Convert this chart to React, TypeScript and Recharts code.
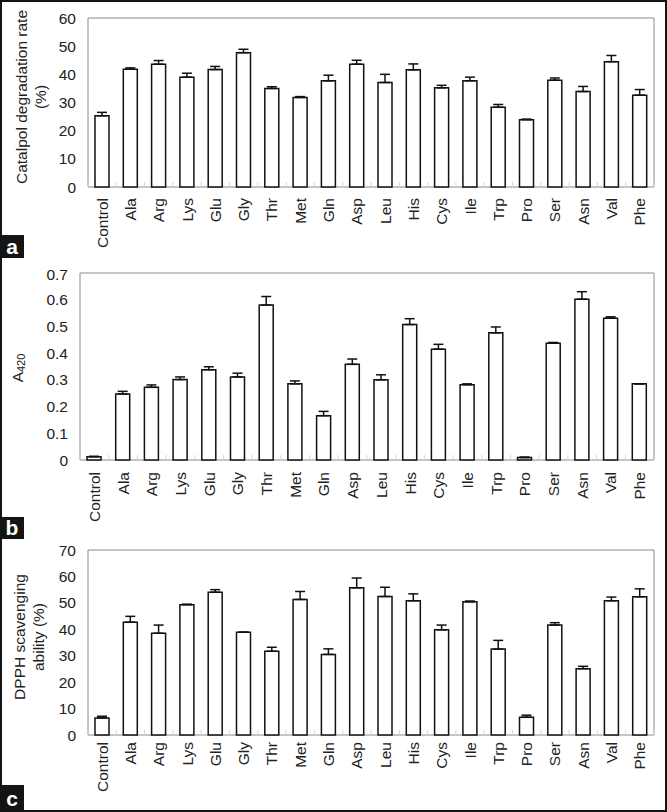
import React from 'react';
import { BarChart, Bar, XAxis, YAxis, ErrorBar, ReferenceArea } from 'recharts';

const CATEGORIES = ['Control', 'Ala', 'Arg', 'Lys', 'Glu', 'Gly', 'Thr', 'Met', 'Gln', 'Asp', 'Leu', 'His', 'Cys', 'Ile', 'Trp', 'Pro', 'Ser', 'Asn', 'Val', 'Phe'];

// panel a: catalpol degradation rate (%)
const DEGRADATION = [25.3, 41.8, 43.6, 39.0, 41.7, 47.7, 35.0, 31.8, 37.7, 43.6, 37.1, 41.6, 35.2, 37.7, 28.3, 23.9, 37.9, 33.9, 44.5, 32.6];
const DEGRADATION_SD = [1.2, 0.5, 1.3, 1.4, 1.1, 1.2, 0.6, 0.3, 2.0, 1.4, 2.9, 2.1, 0.9, 1.3, 1.0, 0.2, 0.8, 1.8, 2.2, 2.0];

// panel b: A420
const A420 = [0.012, 0.247, 0.272, 0.301, 0.338, 0.311, 0.58, 0.285, 0.166, 0.358, 0.3, 0.507, 0.415, 0.282, 0.476, 0.009, 0.437, 0.602, 0.531, 0.285];
const A420_SD = [0.002, 0.01, 0.009, 0.01, 0.011, 0.014, 0.032, 0.011, 0.016, 0.02, 0.019, 0.022, 0.018, 0.003, 0.022, 0.002, 0.003, 0.028, 0.005, 0];

// panel c: DPPH scavenging ability (%)
const DPPH = [6.4, 42.7, 38.5, 49.3, 54.0, 38.9, 31.7, 51.3, 30.5, 55.7, 52.4, 50.8, 39.8, 50.4, 32.5, 6.7, 41.6, 25.1, 50.8, 52.3];
const DPPH_SD = [0.7, 2.2, 3.1, 0.2, 1.0, 0, 1.5, 3.0, 2.1, 3.7, 3.5, 2.6, 1.8, 0.3, 3.3, 0.8, 0.9, 0.9, 1.4, 3.0];

const TICKS_A = [0, 10, 20, 30, 40, 50, 60];
const TICKS_B = [0, 0.1, 0.2, 0.3, 0.4, 0.5, 0.6, 0.7];
const TICKS_C = [0, 10, 20, 30, 40, 50, 60, 70];

const FONT = '"Liberation Sans", Arial, sans-serif';
const TEXT = '#222';
const FS = 15.5;
const W = 667;

const buildRows = (values: number[], sd: number[]) =>
  CATEGORIES.map((name, i) => ({ name, value: values[i], err: [0, sd[i]] }));

function CatTick(props: any) {
  const { x, y, payload, gap, band } = props;
  const edge = x - band / 2;
  return (
    <g>
      <line x1={edge} x2={edge} y1={y - 5} y2={y} stroke="#d6d6d6" strokeWidth={1} />
      {payload.index === CATEGORIES.length - 1 && (
        <line x1={x + band / 2} x2={x + band / 2} y1={y - 5} y2={y} stroke="#d6d6d6" strokeWidth={1} />
      )}
      <text
        x={x}
        y={y + gap}
        transform={`rotate(-90, ${x}, ${y + gap})`}
        textAnchor="end"
        dominantBaseline="central"
        fontSize={FS}
        fontFamily={FONT}
        fill={TEXT}
      >
        {payload.value}
      </text>
    </g>
  );
}

interface PanelProps {
  rows: { name: string; value: number; err: number[] }[];
  height: number;
  top: number;
  bottom: number;
  left: number;
  domainMax: number;
  ticks: number[];
  labelGap: number;
  title: React.ReactNode;
}

function Panel({ rows, height, top, bottom, left, domainMax, ticks, labelGap, title }: PanelProps) {
  const right = 13;
  const band = (W - left - right) / CATEGORIES.length;
  return (
    <BarChart width={W} height={height} data={rows} margin={{ top, right, bottom: bottom - 70, left: 0 }}>
      <XAxis
        dataKey="name"
        height={70}
        axisLine={false}
        tickLine={false}
        tickSize={0}
        tickMargin={0}
        interval={0}
        tick={<CatTick gap={labelGap} band={band} />}
      />
      <YAxis
        width={left}
        domain={[0, domainMax]}
        ticks={ticks}
        axisLine={false}
        tickLine={false}
        tickSize={0}
        tickMargin={12}
        tick={{ fontSize: FS, fontFamily: FONT, fill: TEXT }}
        label={{ content: () => title }}
      />
      <ReferenceArea y1={0} y2={domainMax} fill="none" stroke="#8a8a8a" strokeWidth={1} ifOverflow="visible" />
      <Bar dataKey="value" barSize={14} fill="#fff" stroke="#111" strokeWidth={1.5} isAnimationActive={false}>
        <ErrorBar dataKey="err" direction="y" width={5} stroke="#111" strokeWidth={1.5} isAnimationActive={false} />
      </Bar>
    </BarChart>
  );
}

const titleStyle = { fontSize: FS, fontFamily: FONT, fill: TEXT } as const;

function RotatedLines({ lines, xs, cy }: { lines: string[]; xs: number[]; cy: number }) {
  return (
    <g>
      {lines.map((line, i) => (
        <text
          key={i}
          x={xs[i]}
          y={cy}
          transform={`rotate(-90, ${xs[i]}, ${cy})`}
          textAnchor="middle"
          dominantBaseline="central"
          {...titleStyle}
        >
          {line}
        </text>
      ))}
    </g>
  );
}

function PanelTag({ letter, top, height }: { letter: string; top: number; height: number }) {
  return (
    <div
      style={{
        position: 'absolute',
        left: 0,
        top,
        width: 24,
        height,
        background: '#141414',
        color: '#fff',
        fontFamily: FONT,
        fontWeight: 'bold',
        fontSize: 21,
        lineHeight: `${height}px`,
        textAlign: 'center',
      }}
    >
      {letter}
    </div>
  );
}

export default function App() {
  return (
    <div style={{ position: 'absolute', left: 0, top: 0, width: W, height: 812, background: '#fff', overflow: 'hidden' }}>
      <div style={{ position: 'absolute', left: 0, top: 0 }}>
        <Panel
          rows={buildRows(DEGRADATION, DEGRADATION_SD)}
          height={265}
          top={18}
          bottom={78}
          left={88}
          domainMax={60}
          ticks={TICKS_A}
          labelGap={11}
          title={<RotatedLines lines={['Catalpol degradation rate', '(%)']} xs={[21, 40]} cy={97} />}
        />
      </div>
      <div style={{ position: 'absolute', left: 0, top: 265 }}>
        <Panel
          rows={buildRows(A420, A420_SD)}
          height={270}
          top={8}
          bottom={75}
          left={80}
          domainMax={0.7}
          ticks={TICKS_B}
          labelGap={12}
          title={
            <text x={17} y={103} transform="rotate(-90, 17, 103)" textAnchor="middle" dominantBaseline="central" {...titleStyle}>
              A<tspan fontSize={11} dy={4}>420</tspan>
            </text>
          }
        />
      </div>
      <div style={{ position: 'absolute', left: 0, top: 535 }}>
        <Panel
          rows={buildRows(DPPH, DPPH_SD)}
          height={277}
          top={15}
          bottom={77}
          left={88}
          domainMax={70}
          ticks={TICKS_C}
          labelGap={7}
          title={<RotatedLines lines={['DPPH scavenging', 'ability (%)']} xs={[19, 38]} cy={102} />}
        />
      </div>
      <PanelTag letter="a" top={235} height={23} />
      <PanelTag letter="b" top={517} height={22} />
      <PanelTag letter="c" top={785} height={27} />
      <div
        style={{
          position: 'absolute',
          left: 0,
          top: 0,
          width: W,
          height: 812,
          border: '2px solid #141414',
          boxSizing: 'border-box',
          pointerEvents: 'none',
        }}
      />
    </div>
  );
}
